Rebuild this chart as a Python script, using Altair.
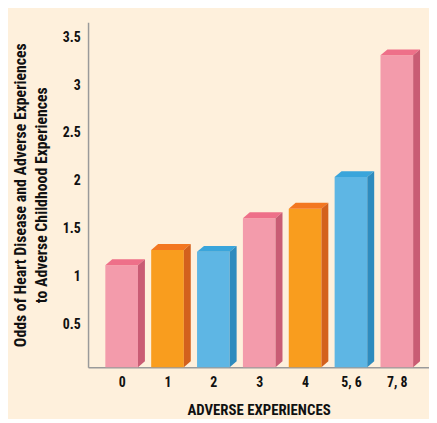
import json
import altair as alt
import pandas as pd

# ---- data ----
categories = ["0", "1", "2", "3", "4", "5, 6", "7, 8"]
odds = [1.12, 1.28, 1.26, 1.61, 1.71, 2.04, 3.31]
tones = ["pink", "orange", "blue", "pink", "orange", "blue", "pink"]
y_ticks = [0.5, 1, 1.5, 2, 2.5, 3, 3.5]

# ---- styles ----
FRONT = {"pink": "#F39BAB", "orange": "#F99D1E", "blue": "#5EB6E4"}
TOP = {"pink": "#EE7089", "orange": "#F37721", "blue": "#3AA5DB"}
SIDE = {"pink": "#C95C74", "orange": "#D3611D", "blue": "#2E8BBE"}
BG = "#FEF0DC"
FONT = "Roboto Condensed"

Y_MIN, Y_MAX = 0.057, 3.655
X_MIN, X_MAX = -0.733, 6.702
HALF = 0.356   # half width of a front face (x units)
DX = 0.151     # depth of the 3D side (x units)
DY = 0.062     # depth of the 3D top (y units)

idx = list(range(len(categories)))
front = pd.DataFrame({
    "idx": idx,
    "cat": categories,
    "odds": odds,
    "color": [FRONT[t] for t in tones],
})
front["x0"] = front["idx"] - HALF
front["x1"] = front["idx"] + HALF
front["base"] = Y_MIN

rows = []
for i, v, t in zip(idx, odds, tones):
    xl, xr = i - HALF, i + HALF
    # top face (parallelogram)
    for px, yu, yl in [(xl, v, v), (xl + DX, v + DY, v), (xr, v + DY, v), (xr + DX, v + DY, v + DY)]:
        rows.append({"face": f"top{i}", "x0": px, "odds": yu, "base": yl, "color": TOP[t]})
    # side face (parallelogram)
    for px, yu, yl in [(xr, v, Y_MIN), (xr + DX, v + DY, Y_MIN + DY)]:
        rows.append({"face": f"side{i}", "x0": px, "odds": yu, "base": yl, "color": SIDE[t]})
faces = pd.DataFrame(rows)

xscale = alt.Scale(domain=[X_MIN, X_MAX], nice=False, zero=False)
yscale = alt.Scale(domain=[Y_MIN, Y_MAX], nice=False, zero=False)

label_expr = json.dumps(categories) + "[round(datum.value)]"

xaxis = alt.Axis(
    values=idx, labelExpr=label_expr, title="ADVERSE EXPERIENCES",
    grid=False, ticks=False, labelAngle=0, labelPadding=9, titlePadding=13,
    titleFontSize=15, domainColor="#9a9a9a", domainWidth=1.5)
yaxis = alt.Axis(
    values=y_ticks, format="~g", grid=False, ticks=False, labelPadding=8,
    title=["Odds of Heart Disease  and Adverse Experiences",
           "to Adverse Childhood Experiences"],
    titleFontSize=16, titlePadding=13, domainColor="#9a9a9a", domainWidth=1.5)

front_layer = alt.Chart(front).mark_rect().encode(
    x=alt.X("x0:Q", scale=xscale, axis=xaxis),
    x2="x1:Q",
    y=alt.Y("odds:Q", scale=yscale, axis=yaxis),
    y2="base:Q",
    color=alt.Color("color:N", scale=None),
)

face_layer = alt.Chart(faces).mark_area(
    interpolate="linear", orient="vertical"
).encode(
    x=alt.X("x0:Q", scale=xscale, axis=xaxis),
    y=alt.Y("odds:Q", scale=yscale, axis=yaxis, stack=None),
    y2=alt.Y2("base:Q"),
    color=alt.Color("color:N", scale=None),
    detail=alt.Detail("face:N"),
)

chart = alt.layer(front_layer, face_layer).properties(
    width=345, height=349,
    autosize=alt.AutoSizeParams(type="none"),
    padding={"left": 81, "top": 12, "right": 0, "bottom": 50},
    background=BG,
).configure_view(stroke=None).configure_axis(
    labelFont=FONT, labelFontSize=14, labelFontWeight="bold", labelColor="#111111",
    titleFont=FONT, titleFontWeight="bold", titleColor="#111111",
    titleLineHeight=21,
)

chart.save("out.html", embed_options={"renderer": "svg", "actions": False})
